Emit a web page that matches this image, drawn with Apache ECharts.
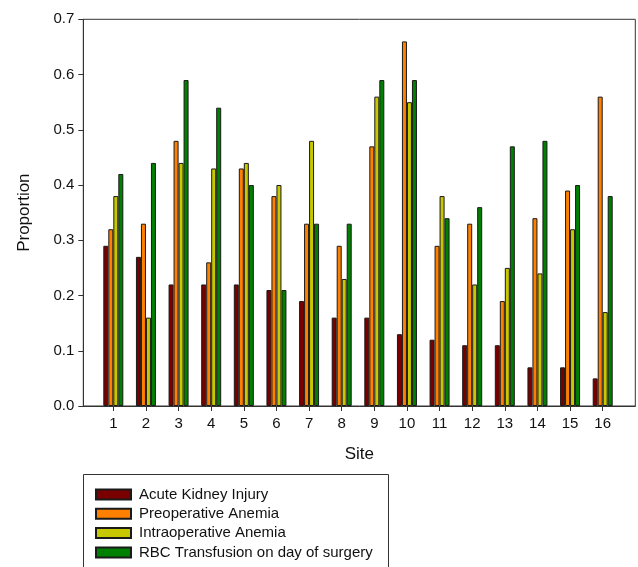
<!DOCTYPE html>
<html>
<head>
<meta charset="utf-8">
<script src="https://cdn.jsdelivr.net/npm/echarts@6/dist/echarts.min.js"></script>
<style>html,body{margin:0;padding:0;background:#fff;}#c{width:638px;height:567px;}</style>
</head>
<body>
<div id="c"></div>
<script>
var sites = ['1','2','3','4','5','6','7','8','9','10','11','12','13','14','15','16'];
var seriesNames = ['Acute Kidney Injury','Preoperative Anemia','Intraoperative Anemia','RBC Transfusion on day of surgery'];
var aki = [0.29,0.27,0.22,0.22,0.22,0.21,0.19,0.16,0.16,0.13,0.12,0.11,0.11,0.07,0.07,0.05];
var preop = [0.32,0.33,0.48,0.26,0.43,0.38,0.33,0.29,0.47,0.66,0.29,0.33,0.19,0.34,0.39,0.56];
var intraop = [0.38,0.16,0.44,0.43,0.44,0.40,0.48,0.23,0.56,0.55,0.38,0.22,0.25,0.24,0.32,0.17];
var rbc = [0.42,0.44,0.59,0.54,0.40,0.21,0.33,0.33,0.59,0.59,0.34,0.36,0.47,0.48,0.40,0.38];
var yTicks = [0,0.1,0.2,0.3,0.4,0.5,0.6,0.7];
var colors = ['#7a0000','#ff8000','#c8c800','#008000'];

var font = 'Liberation Sans, Arial, sans-serif';
var chart = echarts.init(document.getElementById('c'), null, {renderer:'canvas'});
var values = [aki, preop, intraop, rbc];
var series = values.map(function(v,i){
  return {
    name: seriesNames[i], type:'bar', data: v, xAxisIndex:0, yAxisIndex:0,
    barWidth: 5, barGap: '0%',
    itemStyle: {color: colors[i], borderColor:'#1a1a1a', borderWidth:1},
    emphasis: {disabled:true}, animation:false
  };
});
chart.setOption({
  animation:false,
  textStyle:{fontFamily:font},
  grid:[
    {left:97, right:19, top:19.3, bottom:161},
    {left:83.3, right:2.7, top:19.3, bottom:161, show:true, borderColor:'#333', borderWidth:1, backgroundColor:'transparent'}
  ],
  xAxis:[
    {type:'category', data:sites, gridIndex:0,
     axisLine:{show:false},
     axisTick:{show:true, alignWithLabel:true, length:5, lineStyle:{color:'#333'}},
     axisLabel:{color:'#111', fontSize:15, margin:10, fontFamily:font},
     splitLine:{show:false}},
    {type:'value', gridIndex:1, show:true, min:0, max:1,
     axisLine:{show:true, lineStyle:{color:'#333'}}, axisTick:{show:false}, axisLabel:{show:false}, splitLine:{show:false},
     name:'Site', nameLocation:'middle', nameGap:40, nameTextStyle:{color:'#111', fontSize:17, fontFamily:font}}
  ],
  yAxis:[
    {type:'value', gridIndex:0, min:0, max:0.7, interval:0.1, show:false},
    {type:'value', gridIndex:1, min:0, max:0.7, interval:0.1,
     axisLine:{show:true, lineStyle:{color:'#333'}},
     axisTick:{show:true, length:5, lineStyle:{color:'#333'}},
     axisLabel:{color:'#111', fontSize:15, margin:9, fontFamily:font, formatter:function(v){return v.toFixed(1);}},
     splitLine:{show:false},
     name:'Proportion', nameLocation:'middle', nameGap:50, nameRotate:90,
     nameTextStyle:{color:'#111', fontSize:17, fontFamily:font}}
  ],
  graphic:[
    {type:'rect', shape:{x:83.5, y:474.5, width:305, height:120}, style:{fill:'none', stroke:'#333', lineWidth:1}, silent:true}
  ],
  legend:{
    orient:'vertical', left:95, top:487,
    data: seriesNames,
    icon:'rect',
    itemWidth:35, itemHeight:10, itemGap:4.3,
    padding:0,
    textStyle:{color:'#111', fontSize:15, fontFamily:font, padding:[0,0,0,3]},
    selectedMode:false
  },
  series: series
});
</script>
</body>
</html>
